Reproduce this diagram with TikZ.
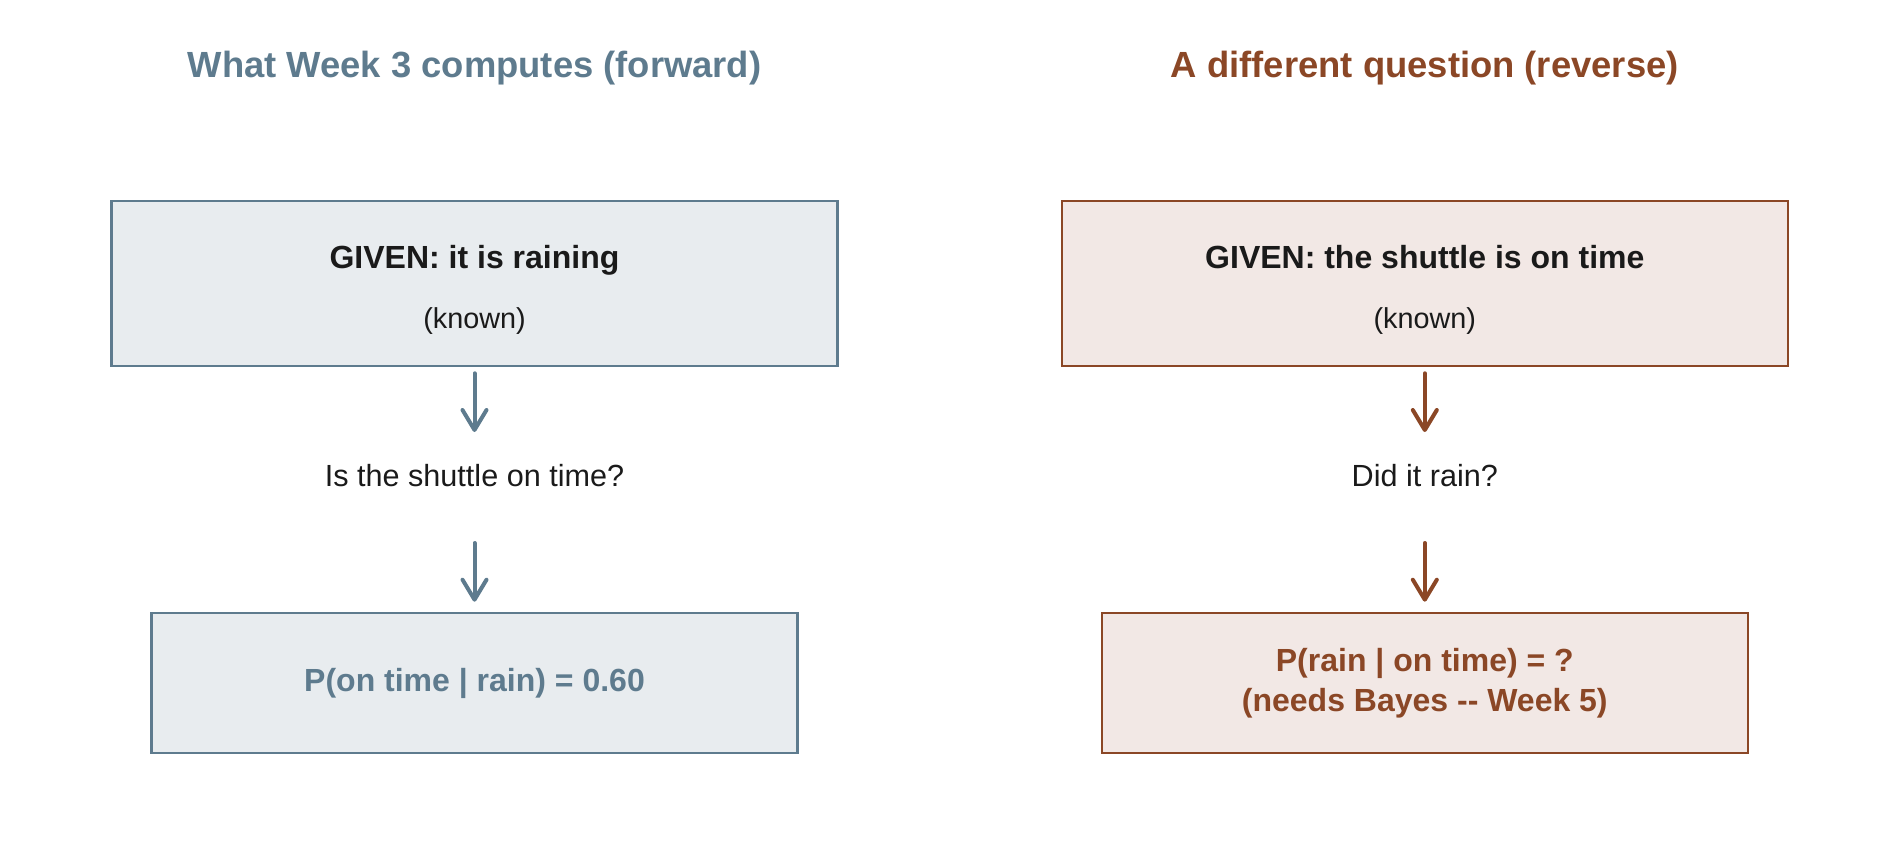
\documentclass[tikz,border=0pt]{standalone}
\usepackage{fontspec}
\setmainfont{Liberation Sans}
\usepackage{tikz}
\usetikzlibrary{arrows.meta}
\definecolor{fwdline}{HTML}{5E7B8E}
\definecolor{fwdfill}{HTML}{E8ECEF}
\definecolor{revline}{HTML}{8B4726}
\definecolor{revfill}{HTML}{F2E8E5}
\definecolor{ink}{HTML}{1A1A1A}

\begin{document}
\begin{tikzpicture}[x=0.5pt,y=-0.5pt]
\tikzstyle{box}=[rectangle,draw,line width=1.3pt,inner sep=0pt]
\tikzstyle{topbox}=[box,minimum width=363pt,minimum height=82.5pt]
\tikzstyle{endbox}=[box,minimum width=323pt,minimum height=70pt]
\tikzstyle{title}=[font=\fontsize{18.2}{22}\selectfont\bfseries]
\tikzstyle{given}=[text=ink,text depth=0pt,font=\fontsize{16}{19}\selectfont\bfseries]
\tikzstyle{known}=[text=ink,font=\fontsize{14.4}{17}\selectfont]
\tikzstyle{ask}=[text=ink,font=\fontsize{15.3}{18}\selectfont]
\tikzstyle{answer}=[align=center,font=\fontsize{16}{20}\selectfont\bfseries]
\tikzstyle{arr}=[line width=2pt,line cap=round,-{Straight Barb[length=10pt,width=12pt,line width=2pt,round]}]
\useasboundingbox (0,0) rectangle (1900,850);
% forward side
\node[title,text=fwdline] at(474.5, 68) (titleL) {What Week 3 computes (forward)};
\node[topbox,draw=fwdline,fill=fwdfill] at(474.5, 283.5) (givenL) {};
\node[given] at(474.5, 257) (givenLtxt) {GIVEN: it is raining};
\node[known] at(474.5, 321.5) (knownL) {(known)};
\node[ask] at(474.5, 476) (askL) {Is the shuttle on time?};
\node[endbox,draw=fwdline,fill=fwdfill] at(474.5, 683) (endL) {};
\node[answer,text=fwdline] at(474.5, 683.5) (answerL) {P(on time | rain) = 0.60};
\draw[arr,fwdline] ([yshift=-3pt]givenL.south) -- ([yshift=22pt]askL.center);
\draw[arr,fwdline] ([yshift=-33.5pt]askL.center) -- ([yshift=5pt]endL.north);
% reverse side
\node[title,text=revline] at(1424.8, 68) (titleR) {A different question (reverse)};
\node[topbox,draw=revline,fill=revfill] at(1424.8, 283.5) (givenR) {};
\node[given] at(1424.8, 257) (givenRtxt) {GIVEN: the shuttle is on time};
\node[known] at(1424.8, 321.5) (knownR) {(known)};
\node[ask] at(1424.8, 476) (askR) {Did it rain?};
\node[endbox,draw=revline,fill=revfill] at(1424.8, 683) (endR) {};
\node[answer,text=revline] at(1424.8, 683) (answerR) {P(rain | on time) = ?\\
                                                    (needs Bayes -{}- Week 5)};
\draw[arr,revline] ([yshift=-3pt]givenR.south) -- ([yshift=22pt]askR.center);
\draw[arr,revline] ([yshift=-33.5pt]askR.center) -- ([yshift=5pt]endR.north);
\end{tikzpicture}
\end{document}
